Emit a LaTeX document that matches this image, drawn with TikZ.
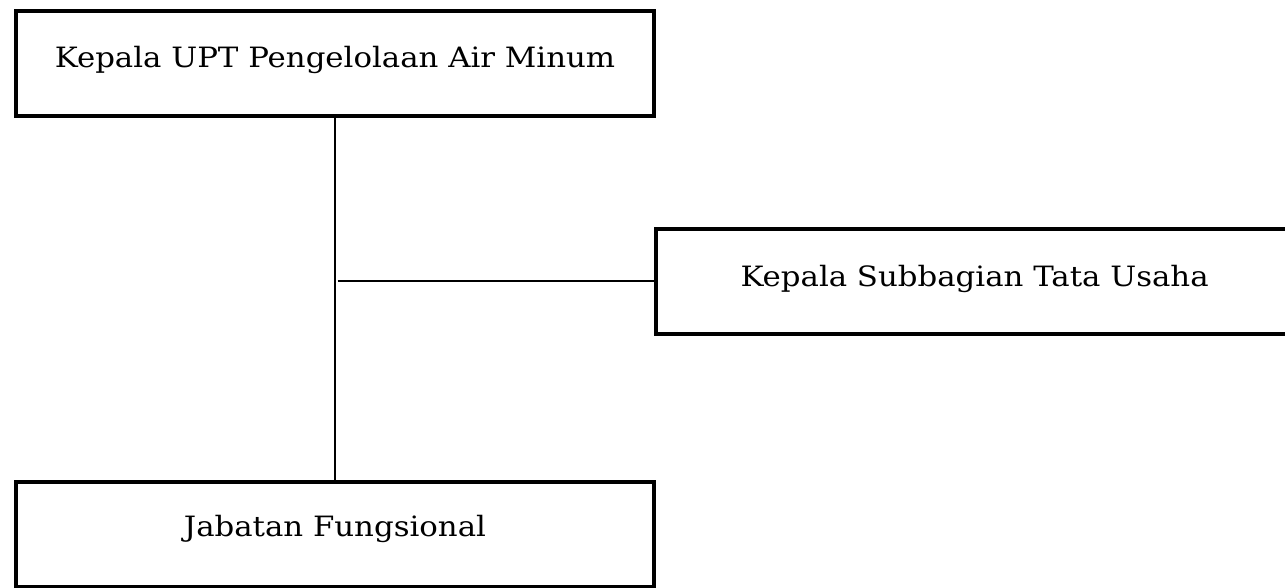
\documentclass[tikz,border=0pt]{standalone}
\usepackage{fontspec}
\setmainfont{DejaVu Serif}[FakeStretch=1.1]
\begin{document}
\begin{tikzpicture}[x=1pt,y=-1pt,
  unitbox/.style={draw=black,line width=4pt,rectangle,inner sep=0pt,outer sep=0pt},
  unitlabel/.style={anchor=base,inner sep=0pt,font=\fontsize{28}{33}\selectfont},
  link/.style={draw=black,line width=2pt},
  sidelink/.style={draw=black,line width=1.5pt}]
\useasboundingbox (0,0) rectangle (1285,587);
% boxes
\node[unitbox,minimum width=638pt,minimum height=105pt] (head) at (335,63.8) {};
\node[unitbox,minimum width=638pt,minimum height=105pt] (func) at (335,534.5) {};
\node[unitbox,minimum width=636.7pt,minimum height=105pt] (admin) at (974.6,281.2) {};
% labels
\node[unitlabel] (headtext) at (335,67.3) {Kepala UPT Pengelolaan Air Minum};
\node[unitlabel] (admintext) at (974.6,286) {Kepala Subbagian Tata Usaha};
\node[unitlabel] (functext) at (335,536) {Jabatan Fungsional};
% connectors
\draw[link] (head.south) -- (func.north);
\draw[sidelink] ([xshift=2.5pt]head.south |- admin.west) -- (admin.west);
\end{tikzpicture}
\end{document}
